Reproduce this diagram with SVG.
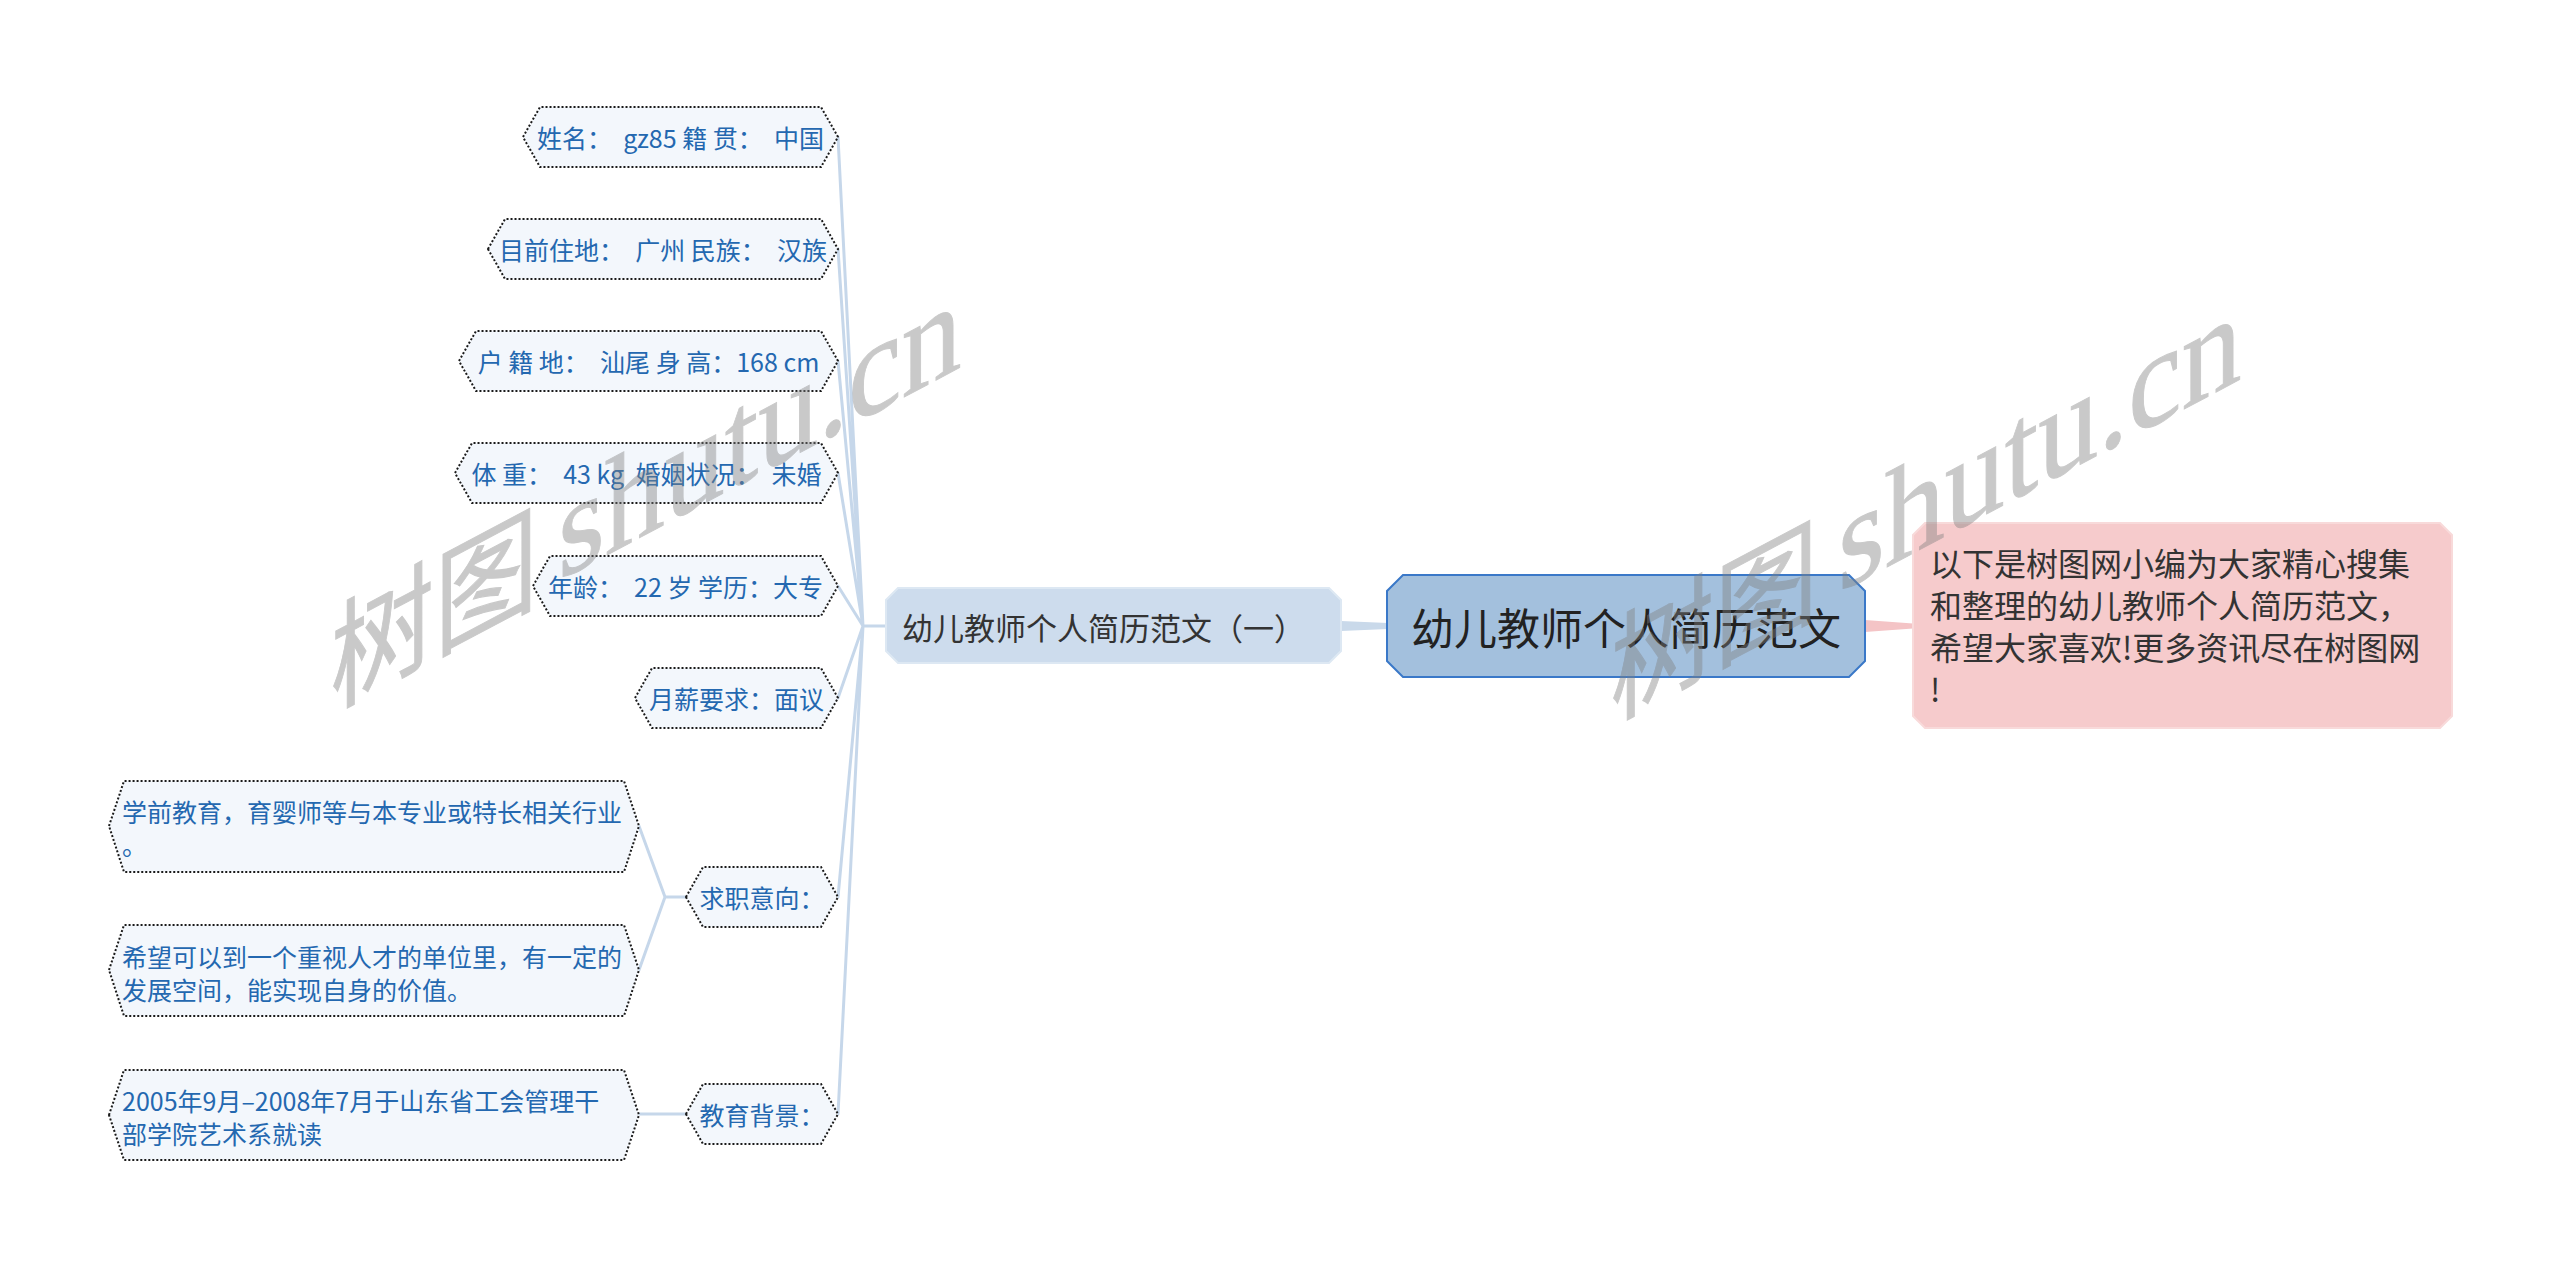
<svg xmlns="http://www.w3.org/2000/svg" width="2560" height="1269" viewBox="0 0 2560 1269">
<style>
.leaf{fill:#f3f7fc;stroke:#1a1a1a;stroke-width:2;stroke-dasharray:2 2}
.lt{font-family:"Noto Sans CJK SC","Liberation Sans",sans-serif;font-size:25px;fill:#2468b0;dominant-baseline:central}
.conn{fill:none;stroke:#c6d7ea;stroke-width:3;stroke-linecap:round}
.wm{font-family:"Liberation Serif","Noto Sans CJK SC",serif;fill:#808080;stroke:#808080;stroke-width:1;opacity:0.42}
</style>
<rect width="2560" height="1269" fill="#ffffff"/>
<g id="connectors">
<path class="conn" d="M886 626 H863 M863 626 L838 137 M863 626 L838 249 M863 626 L838 361 M863 626 L838 473 M863 626 L838 586 M863 626 L838 698 M863 626 L838 897 M863 626 L838 1114"/>
<path class="conn" d="M686 897 H665 L639 826 M665 897 L639 970 M686 1114 H639"/>
<polygon points="1341,621 1388,623 1388,629 1341,631" fill="#c9d9ea"/>
<polygon points="1865,620 1913,623.5 1913,628.5 1865,632" fill="#f4c4c6"/>
</g>
<g id="main">
<polygon points="1403,575 1849,575 1865,591 1865,661 1849,677 1403,677 1387,661 1387,591" fill="#a3c0dd" stroke="#3a78c8" stroke-width="2"/>
<text x="1411" y="626" style="font-family:'Noto Sans CJK SC',sans-serif;font-size:43px;fill:#222;dominant-baseline:central">幼儿教师个人简历范文</text>
</g>
<g id="note">
<polygon points="1925,523 2440,523 2452,535 2452,716 2440,728 1925,728 1913,716 1913,535" fill="#f6cbcc" stroke="#f8dada" stroke-width="2"/>
<g style="font-family:'Noto Sans CJK SC',sans-serif;font-size:32px;fill:#333;dominant-baseline:central">
<text x="1930" y="562">以下是树图网小编为大家精心搜集</text>
<text x="1930" y="604">和整理的幼儿教师个人简历范文，</text>
<text x="1930" y="646">希望大家喜欢!更多资讯尽在树图网</text>
<text x="1930" y="688">!</text>
</g>
</g>
<g id="sub">
<polygon points="898,588 1329,588 1341,600 1341,651 1329,663 898,663 886,651 886,600" fill="#cddced" stroke="#dde8f3" stroke-width="2"/>
<text x="902" y="626" style="font-family:'Noto Sans CJK SC',sans-serif;font-size:31px;fill:#333;dominant-baseline:central">幼儿教师个人简历范文（一）</text>
</g>
<g id="leaf1"><polygon class="leaf" points="523,137 540,107 821,107 838,137 821,167 540,167"/><text class="lt" x="680.5" y="137" text-anchor="middle" xml:space="preserve">姓名：  gz85 籍 贯：  中国</text></g>
<g id="leaf2"><polygon class="leaf" points="488,249 505,219 821,219 838,249 821,279 505,279"/><text class="lt" x="663" y="249" text-anchor="middle" xml:space="preserve">目前住地：  广州 民族：  汉族</text></g>
<g id="leaf3"><polygon class="leaf" points="459,361 476,331 821,331 838,361 821,391 476,391"/><text class="lt" x="648.5" y="361" text-anchor="middle" xml:space="preserve">户 籍 地：  汕尾 身 高：168 cm</text></g>
<g id="leaf4"><polygon class="leaf" points="455,473 472,443 821,443 838,473 821,503 472,503"/><text class="lt" x="646.5" y="473" text-anchor="middle" xml:space="preserve">体 重：  43 kg  婚姻状况：  未婚</text></g>
<g id="leaf5"><polygon class="leaf" points="533,586 550,556 821,556 838,586 821,616 550,616"/><text class="lt" x="685.5" y="586" text-anchor="middle" xml:space="preserve">年龄：  22 岁 学历：大专</text></g>
<g id="leaf6"><polygon class="leaf" points="635,698 652,668 821,668 838,698 821,728 652,728"/><text class="lt" x="736.5" y="698" text-anchor="middle">月薪要求：面议</text></g>
<g id="leaf7"><polygon class="leaf" points="686,897 703,867 821,867 838,897 821,927 703,927"/><text class="lt" x="762" y="897" text-anchor="middle">求职意向：</text></g>
<g id="leaf8"><polygon class="leaf" points="686,1114 703,1084 821,1084 838,1114 821,1144 703,1144"/><text class="lt" x="762" y="1114" text-anchor="middle">教育背景：</text></g>
<g id="leaf9"><polygon class="leaf" points="109,826 124,781 624,781 639,826 624,872 124,872"/><text class="lt" x="122" y="811">学前教育，育婴师等与本专业或特长相关行业</text><text class="lt" x="122" y="844">。</text></g>
<g id="leaf10"><polygon class="leaf" points="109,970 124,925 624,925 639,970 624,1016 124,1016"/><text class="lt" x="122" y="956">希望可以到一个重视人才的单位里，有一定的</text><text class="lt" x="122" y="989">发展空间，能实现自身的价值。</text></g>
<g id="leaf11"><polygon class="leaf" points="109,1115 124,1070 624,1070 639,1115 624,1160 124,1160"/><text class="lt" x="122" y="1100">2005年9月–2008年7月于山东省工会管理干</text><text class="lt" x="122" y="1133">部学院艺术系就读</text></g>
<g id="watermark">
<g transform="matrix(0.883,-0.469,0,1,558,581)"><text class="wm" x="-258" y="6" style="font-size:118px">树图</text><text class="wm" x="0" y="0" style="font-size:136px">shutu.cn</text></g>
<g transform="matrix(0.883,-0.469,0,1,1838,593)"><text class="wm" x="-258" y="6" style="font-size:118px">树图</text><text class="wm" x="0" y="0" style="font-size:136px">shutu.cn</text></g>
</g>
</svg>
